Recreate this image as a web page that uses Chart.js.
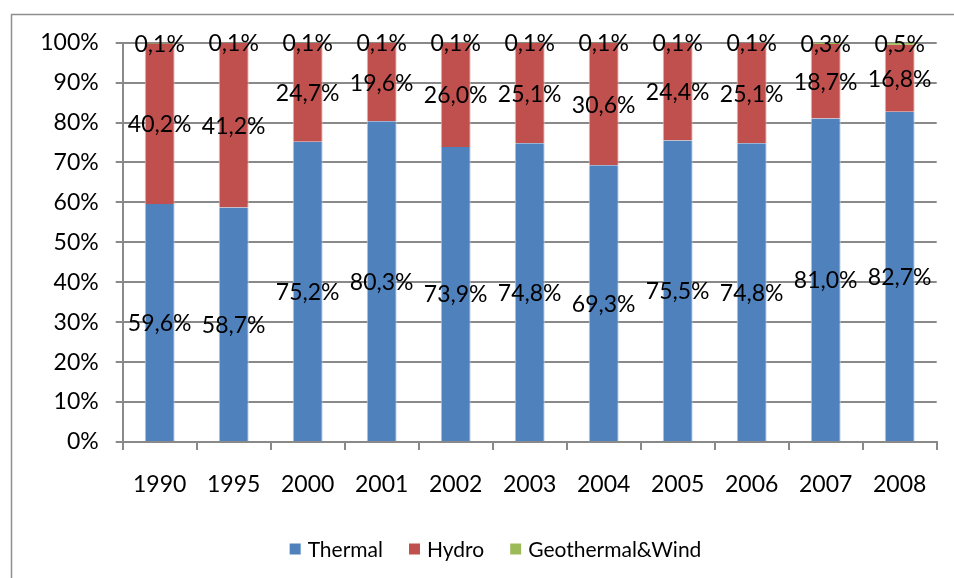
<!DOCTYPE html>
<html>
<head>
<meta charset="utf-8">
<title>Electricity generation by source</title>
<script src="https://cdn.jsdelivr.net/npm/chart.js@4"></script>
<style>
  html, body { margin: 0; padding: 0; background: #ffffff; }
  #wrap { position: relative; width: 954px; height: 578px; }
</style>
</head>
<body>
<div id="wrap"><canvas id="chart" width="954" height="578"></canvas></div>
<script>
// Years shown on the category axis
const years = ['1990', '1995', '2000', '2001', '2002', '2003', '2004', '2005', '2006', '2007', '2008'];

// Share of generation by source, in percent
const thermal = [59.6, 58.7, 75.2, 80.3, 73.9, 74.8, 69.3, 75.5, 74.8, 81.0, 82.7];
const hydro = [40.2, 41.2, 24.7, 19.6, 26.0, 25.1, 30.6, 24.4, 25.1, 18.7, 16.8];
const geoWind = [0.1, 0.1, 0.1, 0.1, 0.1, 0.1, 0.1, 0.1, 0.1, 0.3, 0.5];

const seriesNames = ['Thermal', 'Hydro', 'Geothermal&Wind'];
const seriesColors = ['#4F81BD', '#C0504D', '#9BBB59'];

const FONT = 'Lato, "Open Sans", "Liberation Sans", sans-serif';
const GRID = '#898989';

// Outer frame of the chart object
const framePlugin = {
  id: 'frame',
  beforeDraw(chart) {
    const ctx = chart.ctx;
    ctx.save();
    ctx.fillStyle = '#ffffff';
    ctx.fillRect(0, 0, chart.width, chart.height);
    ctx.strokeStyle = '#8e8e8e';
    ctx.lineWidth = 1.5;
    ctx.beginPath();
    ctx.moveTo(11.5, chart.height + 2);
    ctx.lineTo(11.5, 14.5);
    ctx.lineTo(chart.width + 2, 14.5);
    ctx.stroke();
    ctx.restore();
  }
};

// Value labels centred on every stacked segment
const valueLabels = {
  id: 'valueLabels',
  afterDatasetsDraw(chart) {
    const ctx = chart.ctx;
    ctx.save();
    ctx.font = '23px ' + FONT;
    ctx.fillStyle = '#000000';
    ctx.textAlign = 'center';
    ctx.textBaseline = 'middle';
    chart.data.datasets.forEach((ds, di) => {
      const meta = chart.getDatasetMeta(di);
      meta.data.forEach((bar, i) => {
        const v = ds.data[i];
        const txt = v.toFixed(1).replace('.', ',') + '%';
        const y = (bar.y + bar.base) / 2;
        ctx.fillText(txt, bar.x, y + 1);
      });
    });
    ctx.restore();
  }
};

// Legend row below the axis: square swatch followed by the series name
const legendRow = {
  id: 'legendRow',
  afterDraw(chart) {
    const ctx = chart.ctx;
    const box = 11, gap = 7, spacing = 26, centerX = 495.5, centerY = 549;
    ctx.save();
    ctx.font = '21px ' + FONT;
    ctx.textBaseline = 'middle';
    ctx.textAlign = 'left';
    const items = chart.data.datasets.map(ds => ({
      text: ds.label,
      color: ds.backgroundColor,
      w: ctx.measureText(ds.label).width
    }));
    const total = items.reduce((s, it) => s + box + gap + it.w, 0) + spacing * (items.length - 1);
    let x = centerX - total / 2;
    items.forEach(it => {
      ctx.fillStyle = it.color;
      ctx.fillRect(x, centerY - box / 2, box, box);
      x += box + gap;
      ctx.fillStyle = '#000000';
      ctx.fillText(it.text, x, centerY + 1);
      x += it.w + spacing;
    });
    ctx.restore();
  }
};

new Chart(document.getElementById('chart'), {
  type: 'bar',
  data: {
    labels: years,
    datasets: [
      { label: seriesNames[0], data: thermal, backgroundColor: seriesColors[0], borderColor: '#B9CDE5', borderWidth: { left: 1, right: 1 } },
      { label: seriesNames[1], data: hydro, backgroundColor: seriesColors[1], borderColor: '#E6B9B8', borderWidth: { left: 1, right: 1 } },
      { label: seriesNames[2], data: geoWind, backgroundColor: seriesColors[2], borderWidth: 0 }
    ]
  },
  options: {
    responsive: false,
    animation: false,
    layout: { padding: { left: 11, right: 17.3, top: 42.7, bottom: 64.5 } },
    datasets: {
      bar: { categoryPercentage: 1.0, barPercentage: 0.405 }
    },
    scales: {
      x: {
        stacked: true,
        offset: true,
        afterFit(scale) { scale.height = 71.5; },
        grid: {
          offset: true,
          drawOnChartArea: false,
          drawTicks: true,
          tickLength: 8,
          color: GRID,
          lineWidth: 2
        },
        border: { display: true, color: GRID, width: 2 },
        ticks: {
          color: '#000000',
          padding: 21,
          maxRotation: 0,
          autoSkip: false,
          font: { family: FONT, size: 23 }
        }
      },
      y: {
        stacked: true,
        min: 0,
        max: 100,
        afterFit(scale) { scale.width = 111.7; },
        grid: {
          color: GRID,
          lineWidth: 2,
          drawTicks: true,
          tickLength: 7
        },
        border: { display: true, color: GRID, width: 2 },
        ticks: {
          stepSize: 10,
          color: '#000000',
          padding: 17,
          font: { family: FONT, size: 23 },
          callback: (v) => v + '%'
        }
      }
    },
    plugins: {
      tooltip: { enabled: false },
      legend: { display: false }
    }
  },
  plugins: [framePlugin, valueLabels, legendRow]
});
</script>
</body>
</html>
